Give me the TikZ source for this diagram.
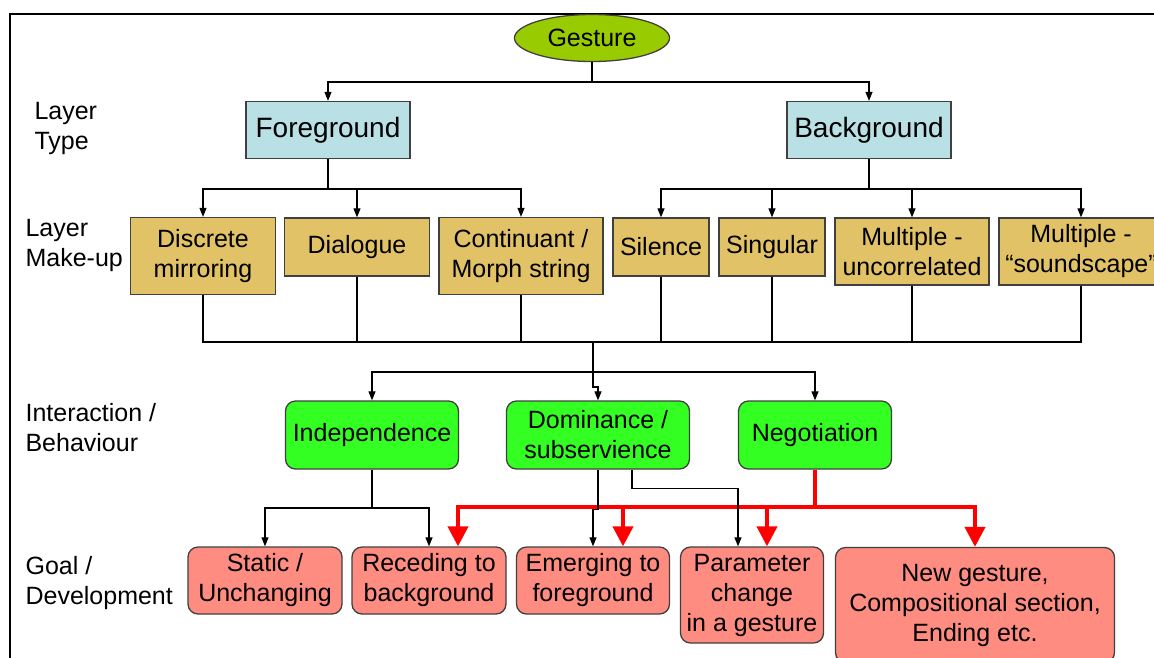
\documentclass[tikz,border=0pt]{standalone}
\usepackage{fontspec}
\setmainfont{Liberation Sans}
\usetikzlibrary{arrows.meta, positioning, shapes}
\definecolor{yellowgreen}{RGB}{153,204,0}
\definecolor{powderblue}{RGB}{185,224,228}
\definecolor{sandtan}{RGB}{226,194,102}
\definecolor{limegreen}{RGB}{51,255,34}
\definecolor{salmonpink}{RGB}{255,140,128}

\begin{document}
\begin{tikzpicture}[%
    x = 1pt, y = -1pt,
    font = \fontsize{25}{30}\selectfont,
    > = {Triangle[width=7pt, length=9pt]},
    line width = 1.1pt,
    every node/.style = {inner sep = 0pt, align = center},
    box/.style = {draw = black!75, line width = 1.3pt},
    layer/.style = {box, fill = powderblue, minimum height = 57pt,
      font = \fontsize{28}{32}\selectfont},
    makeup/.style = {box, fill = sandtan},
    behave/.style = {box, fill = limegreen, rounded corners = 10pt,
      minimum height = 68pt},
    goal/.style = {box, fill = salmonpink, rounded corners = 10pt},
    rowlabel/.style = {anchor = west, align = left},
    redlink/.style = {red, line width = 4pt,
      -{Triangle[width=20pt, length=20pt]}}
  ]

  \useasboundingbox (0,0) rectangle (1154,657);
  \draw[line width = 2pt] (10,14) rectangle (1180,690);

  % row labels
  \node[rowlabel] (LT) at (34,128) {Layer\\Type};
  \node[rowlabel] (LM) at (25,245) {Layer\\Make-up};
  \node[rowlabel] (LI) at (25,428) {Interaction /\\Behaviour};
  \node[rowlabel] (LG) at (25,583) {Goal /\\Development};

  \node[ellipse, box, fill = yellowgreen, minimum width = 155pt,
    minimum height = 47pt] (G) at (592,38) {Gesture};

  \node[layer, minimum width = 164pt] (FG) at (328,130) {Foreground};
  \node[layer, minimum width = 164pt] (BG) at (869,130) {Background};

  \node[makeup, minimum width = 145pt, minimum height = 77pt] (DM) at (203,256) {Discrete\\mirroring};
  \node[makeup, minimum width = 145pt, minimum height = 58pt] (DL) at (357,247) {Dialogue};
  \node[makeup, minimum width = 164pt, minimum height = 77pt] (CM) at (521,256) {Continuant /\\Morph string};
  \node[makeup, minimum width = 96pt, minimum height = 58pt] (SI) at (661,247) {Silence};
  \node[makeup, minimum width = 106pt, minimum height = 58pt] (SG) at (772,247) {Singular};
  \node[makeup, minimum width = 154pt, minimum height = 67pt] (MU) at (912,251.5) {Multiple -\\uncorrelated};
  \node[makeup, minimum width = 164pt, minimum height = 67pt] (MS) at (1081,251.5) {Multiple -\\“soundscape”};

  \node[behave, minimum width = 173pt] (IN) at (372,435) {Independence};
  \node[behave, minimum width = 183pt] (DO) at (598,435) {Dominance /\\subservience};
  \node[behave, minimum width = 153pt] (NE) at (815,435) {Negotiation};

  \node[goal, minimum width = 154pt, minimum height = 67pt] (SU) at (265,580.5) {Static /\\Unchanging};
  \node[goal, minimum width = 154pt, minimum height = 67pt] (RB) at (429,580.5) {Receding to\\background};
  \node[goal, minimum width = 153pt, minimum height = 67pt] (EF) at (593,580.5) {Emerging to\\foreground};
  \node[goal, minimum width = 143pt, minimum height = 96pt] (PC) at (752,595) {Parameter\\change\\in a gesture};
  \node[goal, minimum width = 279pt, minimum height = 115pt] (NG) at (975,605) {New gesture,\\Compositional section,\\Ending etc.};

  % layer type
  \coordinate (jG) at (592,82);
  \draw (G) -- (jG);
  \draw[->] (jG) -| (FG);
  \draw[->] (jG) -| (BG);

  % layer make-up
  \coordinate (jF) at (328,189);
  \draw (FG) -- (jF);
  \foreach \n in {DM, DL, CM} \draw[->] (jF) -| (\n);
  \coordinate (jB) at (869,189);
  \draw (BG) -- (jB);
  \foreach \n in {SI, SG, MU, MS} \draw[->] (jB) -| (\n);

  % interaction
  \coordinate (jM) at (593,342);
  \foreach \n in {DM, DL, CM, SI, SG, MU, MS} \draw (\n.south) |- (jM);
  \coordinate (jI) at (593,372);
  \draw (jM) -- (jI);
  \draw[->] (jI) -| (IN);
  \draw[->] (jI) -| (NE);
  \draw[->] (jI) -- ++(0,15) -| (DO);

  % goal, negotiation in red
  \coordinate (jN) at (815,507);
  \draw[red, line width = 4pt] (NE) -- (jN);
  \foreach \n/\s in {RB/29, EF/30, PC/15, NG/0}
    \draw[redlink] (jN) -| ([xshift=\s pt]\n.north);

  \coordinate (jS) at (372,508);
  \draw (IN) -- (jS);
  \draw[->] (jS) -| (SU);
  \draw[->] (jS) -| (RB);
  \draw[->] (DO.south) -- ++(0,40) -| (EF);
  \draw[->] ([xshift=34pt]DO.south) -- ++(0,19) -| ([xshift=-14pt]PC.north);

\end{tikzpicture}
\end{document}
